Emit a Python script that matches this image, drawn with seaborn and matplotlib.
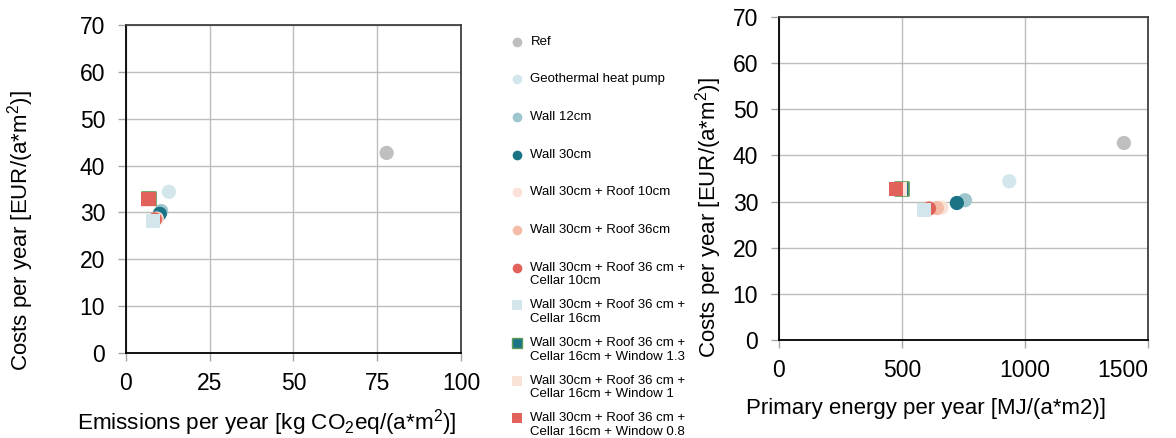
import pandas as pd
import matplotlib
matplotlib.use("Agg")
import matplotlib.pyplot as plt
import seaborn as sns
from matplotlib.lines import Line2D
from matplotlib.legend_handler import HandlerLine2D
from matplotlib.transforms import Affine2D


# ==========================================================
# DADOS
# ==========================================================

variantes = [
    "Ref",
    "Geothermal heat pump",
    "Wall 12cm",
    "Wall 30cm",
    "Wall 30cm + Roof 10cm",
    "Wall 30cm + Roof 36cm",
    "Wall 30cm + Roof 36 cm +\nCellar 10cm",
    "Wall 30cm + Roof 36 cm +\nCellar 16cm",
    "Wall 30cm + Roof 36 cm +\nCellar 16cm + Window 1.3",
    "Wall 30cm + Roof 36 cm +\nCellar 16cm + Window 1",
    "Wall 30cm + Roof 36 cm +\nCellar 16cm + Window 0.8",
]

emissoes = [77.8, 12.8, 10.5, 10.1, 9.2, 8.9, 8.6, 8.1, 6.8, 6.75, 6.7]
energia_primaria = [1402, 936, 756, 723, 660, 642, 610, 589, 501, 490, 477]
custos = [42.7, 34.4, 30.3, 29.7, 28.7, 28.6, 28.5, 28.1, 32.8, 32.7, 32.8]

cores = [
    "#BFBFBF", "#D2E6EB", "#9DC6CF", "#1B7486", "#FBE2D9", "#F4BCA7",
    "#E0625A", "#D2E6EB", "#1B7486", "#FBE2D9", "#E0625A",
]
marcadores = ["o", "o", "o", "o", "o", "o", "o", "s", "s", "s", "s"]
bordas = [c if i != 8 else "#5E9C5A" for i, c in enumerate(cores)]

df = pd.DataFrame({
    "Variante": variantes,
    "Emissoes": emissoes,
    "Energia": energia_primaria,
    "Custos": custos,
})

paleta = dict(zip(variantes, cores))
estilos = dict(zip(variantes, marcadores))


# ==========================================================
# ESTILO
# ==========================================================

sns.set_theme(style="white")
plt.rcParams["font.family"] = ["Liberation Sans", "DejaVu Sans"]
plt.rcParams["mathtext.fontset"] = "custom"
plt.rcParams["mathtext.rm"] = "Liberation Sans"
plt.rcParams["mathtext.default"] = "regular"
plt.rcParams["text.color"] = "black"
plt.rcParams["axes.labelcolor"] = "black"

fig = plt.figure(figsize=(11.76, 4.38), dpi=100)

ax1 = fig.add_axes([0.1071, 0.194, 0.2849, 0.749])
ax2 = fig.add_axes([0.6624, 0.2237, 0.3138, 0.7374])


def desenhar(ax, coluna):

    sns.scatterplot(
        data=df,
        x=coluna,
        y="Custos",
        hue="Variante",
        style="Variante",
        hue_order=variantes,
        style_order=variantes,
        palette=paleta,
        markers=estilos,
        s=105,
        edgecolor=bordas,
        linewidth=[0] * 8 + [1.2] + [0] * 2,
        legend=False,
        zorder=3,
        ax=ax
    )

    ax.set_ylim(0, 70)
    ax.set_yticks(range(0, 71, 10))
    ax.grid(True, color="#BDBDBD", linewidth=1)
    ax.set_axisbelow(True)

    for lado in ["left", "bottom"]:
        ax.spines[lado].set_color("black")
        ax.spines[lado].set_linewidth(1.3)
    for lado in ["top", "right"]:
        ax.spines[lado].set_color("#404040")
        ax.spines[lado].set_linewidth(1.3)

    ax.tick_params(
        axis="both",
        which="both",
        direction="out",
        length=6,
        width=1,
        color="#A6A6A6",
        labelsize=16.5,
        labelcolor="black",
        left=True,
        bottom=True
    )
    ax.tick_params(axis="y", pad=9)
    ax.tick_params(axis="x", pad=8)


# ==========================================================
# GRAFICO 1 - EMISSOES
# ==========================================================

desenhar(ax1, "Emissoes")
ax1.set_xlim(0, 100)
ax1.set_xticks([0, 25, 50, 75, 100])
ax1.set_xlabel("Emissions per year [kg CO$_2$eq/(a*m$^2$)]", fontsize=16.2)
ax1.set_ylabel("Costs per year [EUR/(a*m$^2$)]", fontsize=16)
ax1.xaxis.set_label_coords(0.42, -0.165)
ax1.yaxis.set_label_coords(-0.269, 0.372)


# ==========================================================
# GRAFICO 2 - ENERGIA PRIMARIA
# ==========================================================

desenhar(ax2, "Energia")
ax2.set_xlim(0, 1500)
ax2.set_xticks([0, 500, 1000, 1500])
ax2.get_xticklabels()[-1].set_horizontalalignment("right")
ax2.set_xlabel("Primary energy per year [MJ/(a*m2)]", fontsize=16)
ax2.set_ylabel("Costs per year [EUR/(a*m$^2$)]", fontsize=16)
ax2.xaxis.set_label_coords(0.398, -0.18)
ax2.yaxis.set_label_coords(-0.15, 0.378)


# ==========================================================
# LEGENDA
# ==========================================================

class HandlerPrimeiraLinha(HandlerLine2D):
    # marcador alinhado com a primeira linha do texto

    def create_artists(self, legend, orig_handle, xdescent, ydescent,
                       width, height, fontsize, trans):
        deslocamento = Affine2D().translate(0, fontsize * 0.5)
        return super().create_artists(
            legend, orig_handle, xdescent, ydescent,
            width, height, fontsize, deslocamento + trans
        )


handles = [
    Line2D(
        [], [],
        linestyle="none",
        marker=m,
        markersize=7,
        markerfacecolor=c,
        markeredgecolor=b,
        markeredgewidth=1.0 if b != c else 0
    )
    for m, c, b in zip(marcadores, cores, bordas)
]

rotulos = [v if "\n" in v else v + "\n " for v in variantes]

fig.legend(
    handles,
    rotulos,
    handler_map={Line2D: HandlerPrimeiraLinha()},
    loc="upper left",
    bbox_to_anchor=(0.4286, 0.934),
    frameon=False,
    fontsize=9.5,
    borderpad=0,
    handlelength=1.0,
    handletextpad=0.5,
    labelspacing=0.9
)

fig.savefig("out.png", dpi=100)
